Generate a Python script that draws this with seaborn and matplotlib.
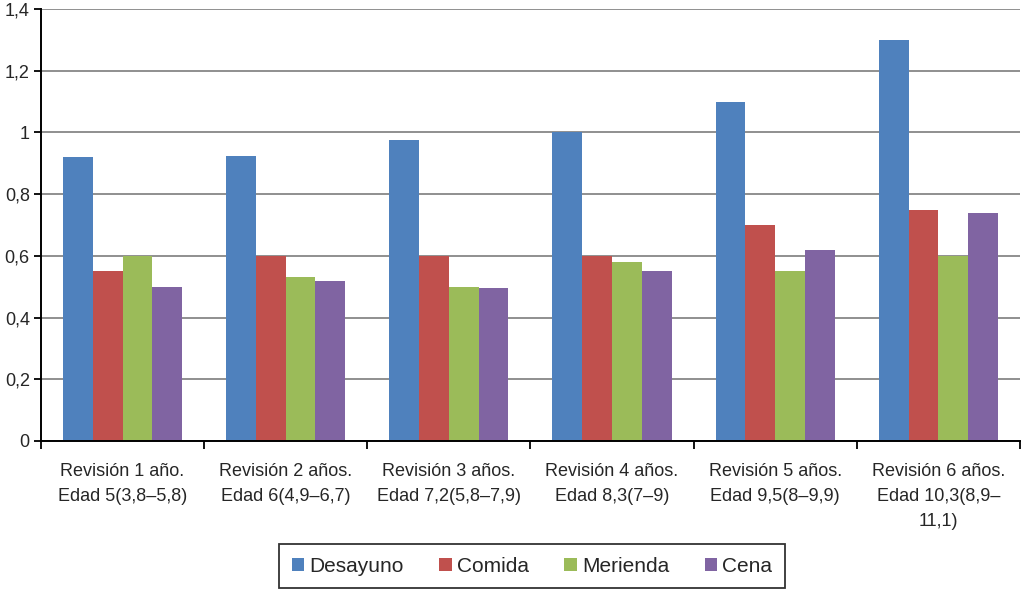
import matplotlib
matplotlib.use("Agg")
import matplotlib.pyplot as plt
import seaborn as sns
import pandas as pd

categories = [
    "Revisión 1 año.\nEdad 5(3,8–5,8)",
    "Revisión 2 años.\nEdad 6(4,9–6,7)",
    "Revisión 3 años.\nEdad 7,2(5,8–7,9)",
    "Revisión 4 años.\nEdad 8,3(7–9)",
    "Revisión 5 años.\nEdad 9,5(8–9,9)",
    "Revisión 6 años.\nEdad 10,3(8,9–\n11,1)",
]
series = ["Desayuno", "Comida", "Merienda", "Cena"]
desayuno = [0.92, 0.925, 0.975, 1.0, 1.1, 1.3]
comida = [0.55, 0.60, 0.60, 0.60, 0.70, 0.75]
merienda = [0.60, 0.53, 0.50, 0.58, 0.55, 0.60]
cena = [0.50, 0.52, 0.495, 0.55, 0.62, 0.74]
yticks = [0, 0.2, 0.4, 0.6, 0.8, 1.0, 1.2, 1.4]
ytick_labels = ["0", "0,2", "0,4", "0,6", "0,8", "1", "1,2", "1,4"]
colors = ["#4F81BD", "#C0504D", "#9BBB59", "#8064A2"]

rows = []
for name, vals in zip(series, [desayuno, comida, merienda, cena]):
    for cat, v in zip(categories, vals):
        rows.append({"cat": cat, "serie": name, "val": v})
df = pd.DataFrame(rows)

sns.set_style("white")
plt.rcParams["font.family"] = ["Liberation Sans", "DejaVu Sans"]

fig = plt.figure(figsize=(10.24, 5.94), dpi=100)
ax = fig.add_axes([0.040, 0.2576, 0.956, 0.7273])

sns.barplot(data=df, x="cat", y="val", hue="serie", order=categories,
            hue_order=series, palette=colors, width=0.73, saturation=1,
            ax=ax, legend=True, linewidth=0)

ax.set_ylim(0, 1.4)
ax.set_xlim(-0.5, len(categories) - 0.5)
ax.set_yticks(yticks)
ax.set_yticklabels(ytick_labels, fontsize=13)
ax.yaxis.grid(True, color="#878787", linewidth=1.3)
ax.set_axisbelow(True)
ax.set_xlabel("")
ax.set_ylabel("")

ax.set_xticks(range(len(categories)))
ax.set_xticklabels(categories, fontsize=13, linespacing=1.6)
ax.tick_params(axis="x", which="major", length=0, pad=16)
ax.set_xticks([i - 0.5 for i in range(len(categories) + 1)], minor=True)
ax.tick_params(axis="x", which="minor", length=6, width=1.3, color="black", direction="out", bottom=True)
ax.tick_params(axis="y", length=5, width=1.3, color="black", direction="out", left=True, pad=3)

for s in ["top", "right"]:
    ax.spines[s].set_visible(False)
for s in ["left", "bottom"]:
    ax.spines[s].set_color("black")
    ax.spines[s].set_linewidth(1.4)

handles, labels = ax.get_legend_handles_labels()
ax.get_legend().remove()
leg = fig.legend(handles, labels, loc="center", bbox_to_anchor=(532 / 1024, 1 - 566 / 594),
                 ncol=4, fontsize=15, frameon=True, fancybox=False, edgecolor="black",
                 handlelength=0.6, handleheight=0.6, handletextpad=0.25, columnspacing=1.7,
                 borderpad=0.6, borderaxespad=0)
leg.get_frame().set_linewidth(1.3)

fig.savefig("out.png", dpi=100)
